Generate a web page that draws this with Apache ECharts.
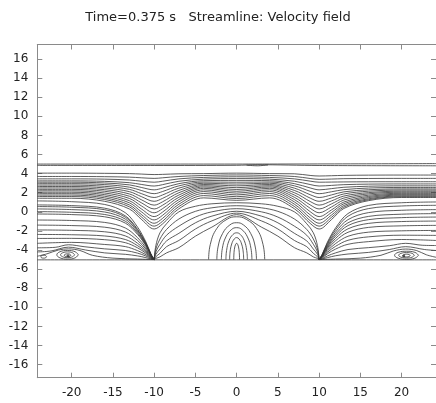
<!DOCTYPE html>
<html><head><meta charset="utf-8">
<script src="https://cdn.jsdelivr.net/npm/echarts@6/dist/echarts.min.js"></script>
<style>html,body{margin:0;padding:0;background:#fff}#c{width:436px;height:403px}</style>
</head><body><div id="c"></div>
<script>
// ---- axis ranges and ticks ----
const xRange = [-24.17, 24.17];
const yRange = [-17.37, 17.52];
const xTickValues = [-20, -15, -10, -5, 0, 5, 10, 15, 20];
const yTickValues = [-16, -14, -12, -10, -8, -6, -4, -2, 0, 2, 4, 6, 8, 10, 12, 14, 16];
const titleText = 'Time=0.375 s   Streamline: Velocity field';

// ---- boundary streamlines (explicit points) ----
const boundaryLines = [
  [[-24.17, 5.0], [0, 5.0], [24.17, 5.05]],
  [[-24.17, 4.86], [-10, 4.85], [0, 4.87], [2.5, 4.93], [10, 4.85], [24.17, 4.82]],
  [[1.2, 4.88], [2.5, 4.82], [3.8, 4.9]],
  [[-24.17, -5.03], [24.17, -5.03]]
];

// ---- through streamlines: y at stations throughX ----
const throughX = [-24.17, -20, -16, -13, -11.5, -10, -9, -7, -4, 0, 4, 7, 9, 10, 11.5, 13, 16, 20, 24.17];
const throughLines = [
  [4.05, 4.05, 4.03, 4.0, 3.95, 3.9, 3.92, 3.98, 4.0, 4.05, 4.0, 3.98, 3.8, 3.75, 3.78, 3.815, 3.84, 3.85, 3.85],
  [3.7, 3.7, 3.68, 3.63, 3.56, 3.5, 3.56, 3.7, 3.8, 3.86, 3.8, 3.7, 3.48, 3.4, 3.43, 3.47, 3.49, 3.5, 3.5],
  [3.45, 3.45, 3.42, 3.33, 3.2, 3.1, 3.2, 3.45, 3.6, 3.67, 3.6, 3.45, 3.2, 3.1, 3.115, 3.13, 3.145, 3.15, 3.15],
  [3.24, 3.24, 3.19, 3.05, 2.86, 2.7, 2.84, 3.2, 3.42, 3.48, 3.42, 3.2, 2.84, 2.7, 2.766, 2.843, 2.898, 2.92, 2.92],
  [3.1, 3.1, 3.02, 2.82, 2.54, 2.3, 2.48, 2.95, 3.26, 3.29, 3.26, 2.95, 2.48, 2.3, 2.43, 2.57, 2.68, 2.72, 2.72],
  [2.95, 2.95, 2.85, 2.58, 2.22, 1.9, 2.12, 2.72, 3.12, 3.1, 3.12, 2.72, 2.12, 1.9, 2.1, 2.32, 2.49, 2.55, 2.55],
  [2.8, 2.8, 2.67, 2.35, 1.89, 1.5, 1.76, 2.48, 2.99, 2.91, 2.99, 2.48, 1.76, 1.5, 1.77, 2.09, 2.31, 2.4, 2.4],
  [2.65, 2.65, 2.5, 2.11, 1.57, 1.1, 1.4, 2.24, 2.86, 2.72, 2.86, 2.24, 1.4, 1.1, 1.45, 1.87, 2.16, 2.28, 2.28],
  [2.5, 2.5, 2.32, 1.87, 1.24, 0.7, 1.04, 2.0, 2.73, 2.53, 2.73, 2.0, 1.04, 0.7, 1.14, 1.65, 2.01, 2.16, 2.16],
  [2.35, 2.35, 2.15, 1.63, 0.92, 0.3, 0.68, 1.76, 2.6, 2.34, 2.6, 1.76, 0.68, 0.3, 0.83, 1.44, 1.88, 2.05, 2.05],
  [2.2, 2.2, 1.97, 1.4, 0.59, -0.1, 0.32, 1.52, 2.46, 2.15, 2.46, 1.52, 0.32, -0.1, 0.51, 1.23, 1.74, 1.94, 1.94],
  [2.05, 2.05, 1.8, 1.16, 0.27, -0.5, -0.04, 1.28, 2.3, 1.96, 2.3, 1.28, -0.04, -0.5, 0.2, 1.02, 1.61, 1.84, 1.84],
  [1.9, 1.9, 1.63, 0.94, -0.03, -0.85, -0.38, 1.04, 2.12, 1.77, 2.12, 1.04, -0.38, -0.85, -0.07, 0.84, 1.49, 1.75, 1.75],
  [1.75, 1.75, 1.46, 0.72, -0.32, -1.2, -0.7, 0.8, 1.92, 1.58, 1.92, 0.8, -0.7, -1.2, -0.34, 0.66, 1.37, 1.66, 1.66],
  [1.6, 1.6, 1.29, 0.52, -0.57, -1.5, -1.0, 0.56, 1.7, 1.39, 1.7, 0.56, -1.0, -1.5, -0.58, 0.5, 1.27, 1.58, 1.58],
  [1.42, 1.42, 1.1, 0.29, -0.83, -1.8, -1.28, 0.32, 1.46, 1.2, 1.46, 0.32, -1.28, -1.8, -0.81, 0.35, 1.17, 1.5, 1.5]
];

// ---- streamlines entering the bottom point at x=-10 from the left ----
const leftSinkX = [-24.17, -20, -16, -13.5, -12, -11, -10.4, -10];
const leftSinkLines = [
  [1.14, 1.06, 0.77, -0.09, -1.62, -3.16, -4.39, -5],
  [0.72, 0.65, 0.38, -0.42, -1.85, -3.28, -4.43, -5],
  [0.55, 0.48, 0.22, -0.56, -1.95, -3.34, -4.45, -5],
  [0.30, 0.23, -0.02, -0.76, -2.09, -3.41, -4.47, -5],
  [0.02, -0.05, -0.28, -0.98, -2.24, -3.49, -4.50, -5],
  [-0.23, -0.29, -0.52, -1.18, -2.38, -3.57, -4.52, -5],
  [-0.86, -0.91, -1.11, -1.69, -2.72, -3.76, -4.59, -5],
  [-1.39, -1.44, -1.61, -2.11, -3.01, -3.92, -4.64, -5],
  [-1.9, -1.94, -2.09, -2.52, -3.30, -4.07, -4.69, -5],
  [-2.37, -2.40, -2.53, -2.90, -3.55, -4.21, -4.74, -5],
  [-2.79, -2.78, -2.92, -3.23, -3.78, -4.34, -4.78, -5],
  [-3.3, -3.2, -3.42, -3.64, -4.07, -4.49, -4.83, -5]
];
const rightSinkX = [24.17, 20, 16, 13.5, 12, 11, 10.4, 10];
const rightSinkLines = [
  [1.03, 0.95, 0.67, -0.18, -1.68, -3.19, -4.40, -5],
  [0.68, 0.61, 0.34, -0.46, -1.88, -3.30, -4.43, -5],
  [0.23, 0.16, -0.08, -0.82, -2.12, -3.43, -4.48, -5],
  [-0.19, -0.25, -0.48, -1.15, -2.35, -3.56, -4.52, -5],
  [-0.55, -0.61, -0.82, -1.44, -2.55, -3.67, -4.56, -5],
  [-0.97, -1.02, -1.21, -1.78, -2.78, -3.79, -4.60, -5],
  [-1.42, -1.47, -1.63, -2.14, -3.03, -3.93, -4.64, -5],
  [-1.95, -1.99, -2.13, -2.56, -3.32, -4.09, -4.70, -5],
  [-2.47, -2.45, -2.62, -2.98, -3.61, -4.24, -4.75, -5],
  [-3.0, -2.9, -3.12, -3.4, -3.9, -4.4, -4.8, -5]
];
// lines passing over the corner eddies (explicit points)
const eddyPassLines = [
  [[-24.17, -3.77], [-22, -3.72], [-20.4, -3.45], [-18.5, -3.65], [-16, -3.88], [-13.5, -4.05], [-12, -4.33], [-11, -4.63], [-10.4, -4.88], [-10, -5]],
  [[-24.17, -4.2], [-22.5, -4.1], [-20.4, -3.7], [-18.3, -4.0], [-16, -4.3], [-13.5, -4.45], [-12, -4.62], [-11, -4.8], [-10.4, -4.93], [-10, -5]],
  [[-24.17, -4.65], [-23, -4.4], [-21.6, -4.0], [-20.4, -3.88], [-19, -4.05], [-17.5, -4.55], [-15, -4.85], [-12, -4.95], [-10, -5]],
  [[24.17, -3.53], [22.5, -3.5], [20.5, -3.3], [18.5, -3.55], [16, -3.75], [13.5, -3.95], [12, -4.3], [11, -4.62], [10.4, -4.88], [10, -5]],
  [[24.17, -4.05], [22.8, -3.95], [20.5, -3.65], [18.5, -3.95], [16, -4.25], [13.5, -4.42], [12, -4.6], [11, -4.8], [10.4, -4.93], [10, -5]],
  [[24.17, -4.76], [23, -4.5], [21.8, -4.05], [20.5, -3.9], [19, -4.1], [17.5, -4.55], [15, -4.85], [12, -4.95], [10, -5]]
];

// ---- dome streamlines from x=-10 to x=10 ----
const domeX = [-10, -9.8, -9.3, -8.5, -7, -5, -3, 0, 3, 5, 7, 8.5, 9.3, 9.8, 10];
const domeLines = [
  [-5, -3.55, -2.2, -1.25, 0.0, 0.58, 0.84, 0.95, 0.84, 0.58, 0.0, -1.25, -2.2, -3.55, -5],
  [-5, -3.9, -2.85, -1.85, -0.75, 0.05, 0.42, 0.64, 0.42, 0.05, -0.75, -1.85, -2.85, -3.9, -5],
  [-5, -4.2, -3.4, -2.45, -1.5, -0.55, 0.0, 0.33, 0.0, -0.55, -1.5, -2.45, -3.4, -4.2, -5],
  [-5, -4.45, -3.9, -3.05, -2.25, -1.15, -0.45, 0.06, -0.45, -1.15, -2.25, -3.05, -3.9, -4.45, -5],
  [-5, -4.7, -4.35, -3.65, -3.0, -1.8, -0.95, -0.14, -0.95, -1.8, -3.0, -3.65, -4.35, -4.7, -5],
  [-5, -4.88, -4.72, -4.3, -3.75, -2.55, -1.6, -0.3, -1.6, -2.55, -3.75, -4.3, -4.72, -4.88, -5]
];

// ---- inner arches around x=0 (explicit points) ----
const archLines = [
  [[-3.4, -5], [-3.2, -3.43], [-2.41, -1.75], [-1.16, -0.78], [0, -0.52], [1.16, -0.78], [2.41, -1.75], [3.2, -3.43], [3.4, -5]],
  [[-2.4, -5], [-2.26, -3.69], [-1.7, -2.26], [-0.82, -1.37], [0, -1.14], [0.82, -1.37], [1.7, -2.26], [2.26, -3.69], [2.4, -5]],
  [[-1.85, -5], [-1.74, -3.86], [-1.31, -2.63], [-0.63, -1.86], [0, -1.66], [0.63, -1.86], [1.31, -2.63], [1.74, -3.86], [1.85, -5]],
  [[-1.3, -5], [-1.22, -4.05], [-0.92, -3.01], [-0.44, -2.37], [0, -2.2], [0.44, -2.37], [0.92, -3.01], [1.22, -4.05], [1.3, -5]],
  [[-0.85, -5], [-0.8, -4.22], [-0.6, -3.37], [-0.29, -2.84], [0, -2.7], [0.29, -2.84], [0.6, -3.37], [0.8, -4.22], [0.85, -5]],
  [[-0.35, -5], [-0.33, -4.42], [-0.25, -3.79], [-0.12, -3.4], [0, -3.3], [0.12, -3.4], [0.25, -3.79], [0.33, -4.42], [0.35, -5]]
];

// ---- corner eddies (closed loops, explicit points) ----
const eddyLoops = [
  [[-19.2, -4.5], [-19.58, -4.18], [-20.5, -4.05], [-21.42, -4.18], [-21.8, -4.5], [-21.42, -4.82], [-20.5, -4.95], [-19.58, -4.82], [-19.2, -4.5]],
  [[-19.65, -4.5], [-19.9, -4.29], [-20.5, -4.2], [-21.1, -4.29], [-21.35, -4.5], [-21.1, -4.71], [-20.5, -4.8], [-19.9, -4.71], [-19.65, -4.5]],
  [[-20.1, -4.55], [-20.22, -4.44], [-20.5, -4.4], [-20.78, -4.44], [-20.9, -4.55], [-20.78, -4.66], [-20.5, -4.7], [-20.22, -4.66], [-20.1, -4.55]],
  [[-23.05, -4.7], [-23.15, -4.59], [-23.4, -4.55], [-23.65, -4.59], [-23.75, -4.7], [-23.65, -4.81], [-23.4, -4.85], [-23.15, -4.81], [-23.05, -4.7]],
  [[22.05, -4.55], [21.63, -4.25], [20.6, -4.13], [19.57, -4.25], [19.15, -4.55], [19.57, -4.85], [20.6, -4.97], [21.63, -4.85], [22.05, -4.55]],
  [[21.55, -4.55], [21.27, -4.35], [20.6, -4.27], [19.93, -4.35], [19.65, -4.55], [19.93, -4.75], [20.6, -4.83], [21.27, -4.75], [21.55, -4.55]],
  [[21.05, -4.58], [20.92, -4.48], [20.6, -4.44], [20.28, -4.48], [20.15, -4.58], [20.28, -4.68], [20.6, -4.72], [20.92, -4.68], [21.05, -4.58]]
];
const eddyCenters = [[-20.45, -4.6], [20.25, -4.62]];

// ---------- build chart ----------
const LINE_COLOR = '#333333';
const FONT = 'DejaVu Sans';
function zip(xs, ys) { return xs.map((x, i) => [x, ys[i]]); }
const series = [];
function addLine(pts, smooth) {
  series.push({
    type: 'line', data: pts, showSymbol: false, symbol: 'none', smooth: smooth,
    lineStyle: { color: LINE_COLOR, width: 0.8 }, silent: true, animation: false,
    xAxisIndex: 0, yAxisIndex: 0, z: 2
  });
}
boundaryLines.forEach(p => addLine(p, 0.3));
throughLines.forEach(ys => addLine(zip(throughX, ys), 0.35));
leftSinkLines.forEach(ys => addLine(zip(leftSinkX, ys), 0.35));
rightSinkLines.forEach(ys => addLine(zip(rightSinkX, ys), 0.35));
eddyPassLines.forEach(p => addLine(p, 0.35));
domeLines.forEach(ys => addLine(zip(domeX, ys), 0.35));
archLines.forEach(p => addLine(p, 0.45));
eddyLoops.forEach(p => addLine(p, 0.45));
series.push({
  type: 'scatter', data: eddyCenters, symbolSize: 3, itemStyle: { color: LINE_COLOR },
  silent: true, animation: false
});

const axisGray = '#8a8a8a';
function xAx(pos, showLabel) {
  return {
    type: 'value', position: pos, min: xRange[0], max: xRange[1],
    axisLine: { show: true, onZero: false, lineStyle: { color: axisGray, width: 1 } },
    axisTick: { show: true, inside: true, length: 5, customValues: xTickValues, lineStyle: { color: axisGray } },
    axisLabel: { show: showLabel, customValues: xTickValues, color: '#222', fontSize: 12, fontFamily: FONT, margin: 9 },
    splitLine: { show: false }
  };
}
function yAx(pos, showLabel) {
  return {
    type: 'value', position: pos, min: yRange[0], max: yRange[1],
    axisLine: { show: true, onZero: false, lineStyle: { color: axisGray, width: 1 } },
    axisTick: { show: true, inside: true, length: 5, customValues: yTickValues, lineStyle: { color: axisGray } },
    axisLabel: { show: showLabel, customValues: yTickValues, color: '#222', fontSize: 12, fontFamily: FONT, margin: 9 },
    splitLine: { show: false }
  };
}

const chart = echarts.init(document.getElementById('c'), null, { renderer: 'canvas' });
chart.setOption({
  backgroundColor: '#fff',
  animation: false,
  title: {
    text: titleText, left: 'center', top: 6,
    textStyle: { fontFamily: FONT, fontSize: 13, fontWeight: 'normal', color: '#222' }
  },
  grid: { left: 37.3, top: 44.5, width: 407, height: 333.2, containLabel: false },
  xAxis: [xAx('bottom', true), xAx('top', false)],
  yAxis: [yAx('left', true), yAx('right', false)],
  series: series
});
</script>
</body></html>
